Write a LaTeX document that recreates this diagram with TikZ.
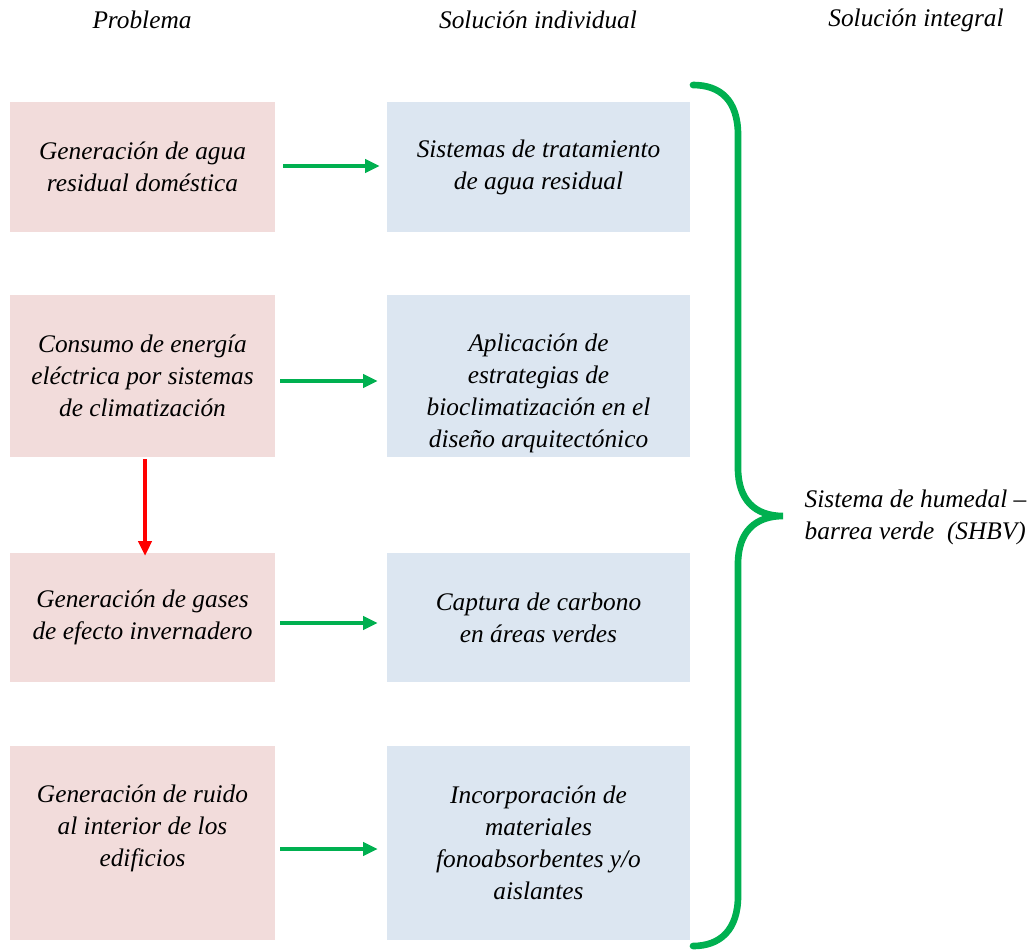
\documentclass[tikz,border=0pt]{standalone}
\usepackage{fontspec}
\setmainfont{LiberationSerif}[Extension=.ttf, UprightFont=*-Regular, ItalicFont=*-Italic, BoldFont=*-Bold, BoldItalicFont=*-BoldItalic]
\usetikzlibrary{arrows.meta}
\definecolor{pinkbox}{HTML}{F2DCDB}
\definecolor{bluebox}{HTML}{DCE6F1}
\definecolor{mygreen}{HTML}{00B050}
\definecolor{myred}{HTML}{FF0000}
\begin{document}
\begin{tikzpicture}[x=0.75pt,y=-0.75pt,
  txt/.style={font=\fontsize{19}{24}\selectfont\itshape, align=center},
  probbox/.style={txt, fill=pinkbox, minimum width=198.75pt, inner sep=0pt},
  solbox/.style={txt, fill=bluebox, minimum width=227.25pt, inner sep=0pt},
  garrow/.style={draw=mygreen, line width=2.4pt, -{Triangle[length=11pt,width=10pt]}},
  rarrow/.style={draw=myred, line width=2.4pt, -{Triangle[length=11pt,width=10pt]}},
  hdr/.style={font=\fontsize{19}{24}\selectfont\itshape}
]
\useasboundingbox (0,0) rectangle (1034,951);
% headers
\node[hdr] (h1) at (142,20) {Problema};
\node[hdr] (h2) at (538,20) {Solución individual};
\node[hdr] (h3) at (916,20) {Solución integral};
% boxes
\node[probbox, minimum height=97.5pt] (l1) at (142.5,167) {Generación de agua\\residual doméstica};
\node[solbox, minimum height=97.5pt] (r1) at (538.5,167) {Sistemas de tratamiento\\de agua residual};
\node[probbox, minimum height=121.5pt] (l2) at (142.5,376) {Consumo de energía\\eléctrica por sistemas\\de climatización};
\node[solbox, minimum height=121.5pt] (r2) at (538.5,376) {};
\node[txt] (r2t) at ([yshift=-13pt]r2.center) {Aplicación de\\estrategias de\\bioclimatización en el\\diseño arquitectónico};
\node[probbox, minimum height=96.75pt] (l3) at (142.5,617.5) {Generación de gases\\de efecto invernadero};
\node[solbox, minimum height=96.75pt] (r3) at (538.5,617.5) {Captura de carbono\\en áreas verdes};
\node[probbox, minimum height=145.5pt] (l4) at (142.5,843) {};
\node[txt] (l4t) at ([yshift=10.9pt]l4.center) {Generación de ruido\\al interior de los\\edificios};
\node[solbox, minimum height=145.5pt] (r4) at (538.5,843) {Incorporación de\\materiales\\fonoabsorbentes y/o\\aislantes};
% arrows
\draw[garrow, shorten <=6pt, shorten >=5.25pt] ([yshift=0.75pt]l1.east) -- ([yshift=0.75pt]r1.west);
\draw[garrow, shorten <=3.75pt, shorten >=6.75pt] ([yshift=-3.75pt]l2.east) -- ([yshift=-3.75pt]r2.west);
\draw[garrow, shorten <=3.75pt, shorten >=6.75pt] ([yshift=-4.1pt]l3.east) -- ([yshift=-4.1pt]r3.west);
\draw[garrow, shorten <=3.75pt, shorten >=6.75pt] ([yshift=-4.5pt]l4.east) -- ([yshift=-4.5pt]r4.west);
\draw[rarrow, shorten <=1.5pt, shorten >=-2.25pt] ([xshift=1.9pt]l2.south) -- ([xshift=1.9pt]l3.north);
% brace
\coordinate (btop) at (693,85);
\coordinate (btip) at (783,516);
\coordinate (bbot) at (693,946);
\draw[mygreen, line width=5pt, line cap=round]
  (btop) .. controls (720,85) and (738,100) .. (738,135)
  -- (738,468) .. controls (738,500) and (755,516) .. (btip)
  .. controls (755,516) and (738,532) .. (738,564)
  -- (738,896) .. controls (738,930) and (720,946) .. (bbot);
\node[txt, align=left, anchor=west] (lbl) at (800,517) {Sistema de humedal –\\barrea verde\ \ (SHBV)};
\end{tikzpicture}
\end{document}
